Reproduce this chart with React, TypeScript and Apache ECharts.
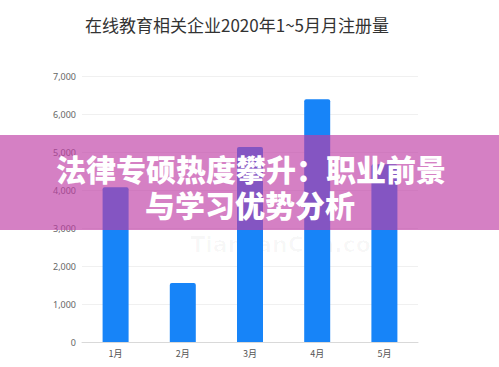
import React, { useEffect, useRef } from "react";
import * as echarts from "echarts";

const categories = ["1月", "2月", "3月", "4月", "5月"];
const registrations = [4070, 1550, 5130, 6390, 4680];
const chartTitle = "在线教育相关企业2020年1~5月月注册量";
const bannerLines = ["法律专硕热度攀升：职业前景", "与学习优势分析"];
const watermark = "TianYanCha.com";

export default function App() {
  const ref = useRef<HTMLDivElement>(null);
  useEffect(() => {
    document.body.style.margin = "0";
    const chart = echarts.init(ref.current!, null, { renderer: "svg" });
    chart.setOption({
      animation: false,
      backgroundColor: "#ffffff",
      grid: { left: 82, right: 81, top: 76, bottom: 25 },
      xAxis: {
        type: "category",
        data: categories,
        axisLine: { lineStyle: { color: "#d9d9d9" } },
        axisTick: { show: false },
        axisLabel: { color: "#555", fontSize: 9, margin: 7, fontFamily: "Noto Sans CJK SC" },
      },
      yAxis: {
        type: "value",
        min: 0,
        max: 7000,
        interval: 1000,
        axisLine: { show: false },
        axisTick: { show: false },
        splitLine: { lineStyle: { color: "#f0f0f0" } },
        axisLabel: {
          color: "#666",
          fontSize: 9,
          margin: 6,
          fontFamily: "Noto Sans",
          formatter: (v: number) => v.toLocaleString("en-US"),
        },
      },
      series: [
        {
          type: "bar",
          data: registrations,
          barWidth: 26,
          itemStyle: { color: "#1784f8", borderRadius: [2, 2, 0, 0] },
          z: 2,
        },
      ],
      graphic: [
        {
          type: "text",
          x: 237,
          y: 24,
          z: 1,
          style: {
            text: chartTitle,
            fill: "#333",
            font: "17px 'Noto Sans CJK SC'",
            textAlign: "center",
            textVerticalAlign: "middle",
          },
        },
        {
          type: "text",
          x: 292,
          y: 244,
          z: 0,
          style: {
            text: watermark,
            fill: "rgba(0,0,0,0.028)",
            font: "bold 22px 'DejaVu Sans'",
            textAlign: "center",
            textVerticalAlign: "middle",
          },
        },
        {
          type: "rect",
          shape: { x: 0, y: 135, width: 499, height: 95 },
          z: 100,
          style: { fill: "rgba(190,60,165,0.65)" },
        },
        {
          type: "text",
          x: 251,
          y: 168,
          z: 101,
          style: {
            text: bannerLines[0],
            fill: "#ffffff",
            font: "900 30px 'Noto Sans CJK SC'",
            textAlign: "center",
            textVerticalAlign: "middle",
          },
        },
        {
          type: "text",
          x: 250,
          y: 204,
          z: 101,
          style: {
            text: bannerLines[1],
            fill: "#ffffff",
            font: "900 30px 'Noto Sans CJK SC'",
            textAlign: "center",
            textVerticalAlign: "middle",
          },
        },
      ],
    });
    return () => chart.dispose();
  }, []);
  return (
    <div
      ref={ref}
      style={{ position: "fixed", left: 0, top: 0, width: 499, height: 367 }}
    />
  );
}
